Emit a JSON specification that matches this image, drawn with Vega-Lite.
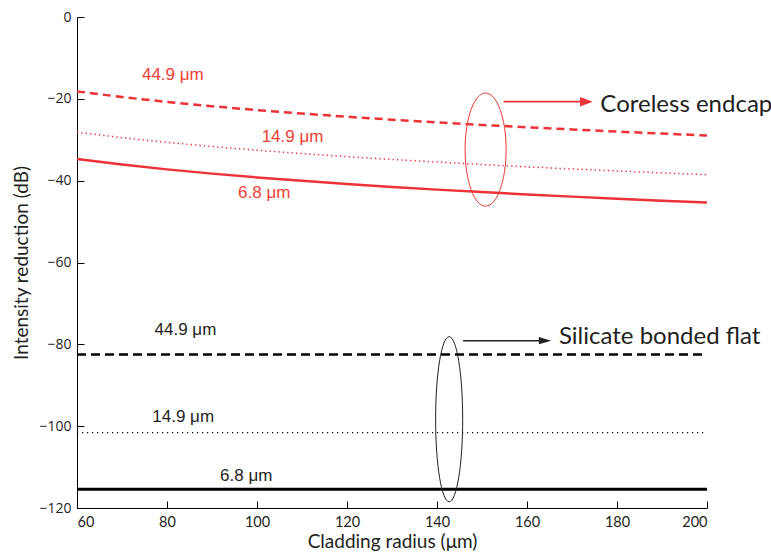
{
  "$schema": "https://vega.github.io/schema/vega-lite/v6.json",
  "width": 630,
  "height": 491,
  "autosize": {"type": "none"},
  "padding": {"left": 77, "top": 17, "right": 64, "bottom": 46},
  "background": "white",
  "config": {
    "view": {"stroke": null},
    "font": "Lato",
    "axis": {
      "grid": false,
      "domainColor": "#000000",
      "domainWidth": 1,
      "tickColor": "#000000",
      "tickWidth": 1,
      "tickSize": -7,
      "labelPadding": 13,
      "labelFont": "Lato",
      "labelFontSize": 14.5,
      "labelColor": "#231F20",
      "titleFont": "Lato",
      "titleFontSize": 19,
      "titleFontWeight": "normal",
      "titleColor": "#231F20"
    }
  },
  "datasets": {
    "lines": [
      {"s": "c449", "x": 60, "y": -18.18}, {"s": "c449", "x": 70, "y": -19.56}, {"s": "c449", "x": 80, "y": -20.76}, {"s": "c449", "x": 90, "y": -21.81}, {"s": "c449", "x": 100, "y": -22.75}, {"s": "c449", "x": 110, "y": -23.6}, {"s": "c449", "x": 120, "y": -24.38}, {"s": "c449", "x": 130, "y": -25.1}, {"s": "c449", "x": 140, "y": -25.76}, {"s": "c449", "x": 150, "y": -26.37}, {"s": "c449", "x": 160, "y": -26.95}, {"s": "c449", "x": 170, "y": -27.49}, {"s": "c449", "x": 180, "y": -28.01}, {"s": "c449", "x": 190, "y": -28.49}, {"s": "c449", "x": 200, "y": -28.95},
      {"s": "c149", "x": 60, "y": -28.16}, {"s": "c149", "x": 70, "y": -29.49}, {"s": "c149", "x": 80, "y": -30.64}, {"s": "c149", "x": 90, "y": -31.65}, {"s": "c149", "x": 100, "y": -32.56}, {"s": "c149", "x": 110, "y": -33.38}, {"s": "c149", "x": 120, "y": -34.13}, {"s": "c149", "x": 130, "y": -34.82}, {"s": "c149", "x": 140, "y": -35.46}, {"s": "c149", "x": 150, "y": -36.06}, {"s": "c149", "x": 160, "y": -36.62}, {"s": "c149", "x": 170, "y": -37.13}, {"s": "c149", "x": 180, "y": -37.63}, {"s": "c149", "x": 190, "y": -38.1}, {"s": "c149", "x": 200, "y": -38.54},
      {"s": "c68", "x": 60, "y": -34.69}, {"s": "c68", "x": 70, "y": -36.06}, {"s": "c68", "x": 80, "y": -37.24}, {"s": "c68", "x": 90, "y": -38.28}, {"s": "c68", "x": 100, "y": -39.21}, {"s": "c68", "x": 110, "y": -40.05}, {"s": "c68", "x": 120, "y": -40.83}, {"s": "c68", "x": 130, "y": -41.53}, {"s": "c68", "x": 140, "y": -42.19}, {"s": "c68", "x": 150, "y": -42.8}, {"s": "c68", "x": 160, "y": -43.37}, {"s": "c68", "x": 170, "y": -43.9}, {"s": "c68", "x": 180, "y": -44.41}, {"s": "c68", "x": 190, "y": -44.89}, {"s": "c68", "x": 200, "y": -45.35},
      {"s": "f449", "x": 60, "y": -82.5}, {"s": "f449", "x": 200, "y": -82.5},
      {"s": "f149", "x": 60, "y": -101.6}, {"s": "f149", "x": 200, "y": -101.6},
      {"s": "f68", "x": 60, "y": -115.4}, {"s": "f68", "x": 200, "y": -115.4}
    ],
    "labels": [
      {"t": "44.9 μm", "x": 81.3, "y": -14.1, "g": "red"},
      {"t": "14.9 μm", "x": 107.9, "y": -29.3, "g": "red"},
      {"t": "6.8 μm", "x": 101.6, "y": -43.1, "g": "red"},
      {"t": "44.9 μm", "x": 84.1, "y": -76.5, "g": "black"},
      {"t": "14.9 μm", "x": 83.6, "y": -97.7, "g": "black"},
      {"t": "6.8 μm", "x": 97.6, "y": -112.1, "g": "black"}
    ],
    "arrows": [
      {"g": "red", "x": 154.8, "x2": 172.5, "y": -20.7, "tip": 173.2},
      {"g": "black", "x": 145.8, "x2": 163.5, "y": -79.1, "tip": 164.0}
    ],
    "notes": [
      {"t": "Coreless endcap", "x": 176.3, "y": -23.2},
      {"t": "Silicate bonded flat", "x": 167.1, "y": -80.0}
    ]
  },
  "layer": [
    {
      "data": {"name": "lines"},
      "transform": [{"filter": "datum.s == 'c449'"}],
      "mark": {"type": "line", "color": "#ED3237", "strokeWidth": 2.5, "strokeDash": [8, 5]},
      "encoding": {
        "x": {"field": "x", "type": "quantitative", "scale": {"domain": [60, 200], "nice": false, "zero": false},
              "axis": {"title": "Cladding radius (μm)", "values": [60, 80, 100, 120, 140, 160, 180, 200], "labelPadding": 14, "titlePadding": 4}},
        "y": {"field": "y", "type": "quantitative", "scale": {"domain": [-120, 0], "nice": false, "zero": false},
              "axis": {"title": "Intensity reduction (dB)", "values": [0, -20, -40, -60, -80, -100, -120], "titlePadding": 7,
                       "labelFont": "Open Sans", "labelFontSize": 14,
                       "labelExpr": "datum.value < 0 ? '\u2212' + format(-datum.value, 'd') : '0'"}}
      }
    },
    {
      "data": {"name": "lines"},
      "transform": [{"filter": "datum.s == 'c149'"}],
      "mark": {"type": "line", "color": "#ED3237", "strokeWidth": 1.5, "strokeDash": [1.3, 3.1]},
      "encoding": {"x": {"field": "x", "type": "quantitative"}, "y": {"field": "y", "type": "quantitative"}}
    },
    {
      "data": {"name": "lines"},
      "transform": [{"filter": "datum.s == 'c68'"}],
      "mark": {"type": "line", "color": "#ED3237", "strokeWidth": 2.5},
      "encoding": {"x": {"field": "x", "type": "quantitative"}, "y": {"field": "y", "type": "quantitative"}}
    },
    {
      "data": {"name": "lines"},
      "transform": [{"filter": "datum.s == 'f449'"}],
      "mark": {"type": "line", "color": "#000000", "strokeWidth": 2.5, "strokeDash": [9, 5]},
      "encoding": {"x": {"field": "x", "type": "quantitative"}, "y": {"field": "y", "type": "quantitative"}}
    },
    {
      "data": {"name": "lines"},
      "transform": [{"filter": "datum.s == 'f149'"}],
      "mark": {"type": "line", "color": "#000000", "strokeWidth": 1.2, "strokeDash": [1.2, 3.8]},
      "encoding": {"x": {"field": "x", "type": "quantitative"}, "y": {"field": "y", "type": "quantitative"}}
    },
    {
      "data": {"name": "lines"},
      "transform": [{"filter": "datum.s == 'f68'"}],
      "mark": {"type": "line", "color": "#000000", "strokeWidth": 3},
      "encoding": {"x": {"field": "x", "type": "quantitative"}, "y": {"field": "y", "type": "quantitative"}}
    },
    {
      "data": {"name": "labels"},
      "transform": [{"filter": "datum.g == 'red'"}],
      "mark": {"type": "text", "fontSize": 17, "align": "center", "baseline": "middle", "font": "Liberation Sans", "color": "#EE4035"},
      "encoding": {
        "x": {"field": "x", "type": "quantitative"},
        "y": {"field": "y", "type": "quantitative"},
        "text": {"field": "t"}
      }
    },
    {
      "data": {"name": "labels"},
      "transform": [{"filter": "datum.g == 'black'"}],
      "mark": {"type": "text", "fontSize": 17, "align": "center", "baseline": "middle", "font": "Liberation Sans", "color": "#231F20"},
      "encoding": {
        "x": {"field": "x", "type": "quantitative"},
        "y": {"field": "y", "type": "quantitative"},
        "text": {"field": "t"}
      }
    },
    {
      "data": {"values": [{"x": 150.8, "y": -32.4}]},
      "mark": {"type": "point", "filled": false, "stroke": "#E8392F", "strokeWidth": 1, "opacity": 1, "size": 12800,
               "shape": "M0,-1C0.2,-1,0.363,-0.552,0.363,0C0.363,0.552,0.2,1,0,1C-0.2,1,-0.363,0.552,-0.363,0C-0.363,-0.552,-0.2,-1,0,-1Z"},
      "encoding": {
        "x": {"field": "x", "type": "quantitative"},
        "y": {"field": "y", "type": "quantitative"}
      }
    },
    {
      "data": {"values": [{"x": 142.7, "y": -98.3}]},
      "mark": {"type": "point", "filled": false, "stroke": "#231F20", "strokeWidth": 1, "opacity": 1, "size": 27225,
               "shape": "M0,-1C0.0905,-1,0.164,-0.552,0.164,0C0.164,0.552,0.0905,1,0,1C-0.0905,1,-0.164,0.552,-0.164,0C-0.164,-0.552,-0.0905,-1,0,-1Z"},
      "encoding": {
        "x": {"field": "x", "type": "quantitative"},
        "y": {"field": "y", "type": "quantitative"}
      }
    },
    {
      "data": {"name": "arrows"},
      "transform": [{"filter": "datum.g == 'red'"}],
      "mark": {"type": "rule", "strokeWidth": 1.8, "color": "#ED3237"},
      "encoding": {
        "x": {"field": "x", "type": "quantitative"},
        "x2": {"field": "x2"},
        "y": {"field": "y", "type": "quantitative"}
      }
    },
    {
      "data": {"name": "arrows"},
      "transform": [{"filter": "datum.g == 'red'"}],
      "mark": {"type": "point", "filled": true, "opacity": 1, "size": 160, "color": "#ED3237", "shape": "M-1,-0.75L1,0L-1,0.75Z"},
      "encoding": {
        "x": {"field": "tip", "type": "quantitative"},
        "y": {"field": "y", "type": "quantitative"}
      }
    },
    {
      "data": {"name": "arrows"},
      "transform": [{"filter": "datum.g == 'black'"}],
      "mark": {"type": "rule", "strokeWidth": 1.5, "color": "#231F20"},
      "encoding": {
        "x": {"field": "x", "type": "quantitative"},
        "x2": {"field": "x2"},
        "y": {"field": "y", "type": "quantitative"}
      }
    },
    {
      "data": {"name": "arrows"},
      "transform": [{"filter": "datum.g == 'black'"}],
      "mark": {"type": "point", "filled": true, "opacity": 1, "size": 150, "color": "#231F20", "shape": "M-1,-0.6L1,0L-1,0.6Z"},
      "encoding": {
        "x": {"field": "tip", "type": "quantitative"},
        "y": {"field": "y", "type": "quantitative"}
      }
    },
    {
      "data": {"name": "notes"},
      "mark": {"type": "text", "fontSize": 24, "align": "left", "baseline": "alphabetic", "color": "#231F20", "font": "Lato"},
      "encoding": {
        "x": {"field": "x", "type": "quantitative"},
        "y": {"field": "y", "type": "quantitative"},
        "text": {"field": "t"}
      }
    }
  ]
}
